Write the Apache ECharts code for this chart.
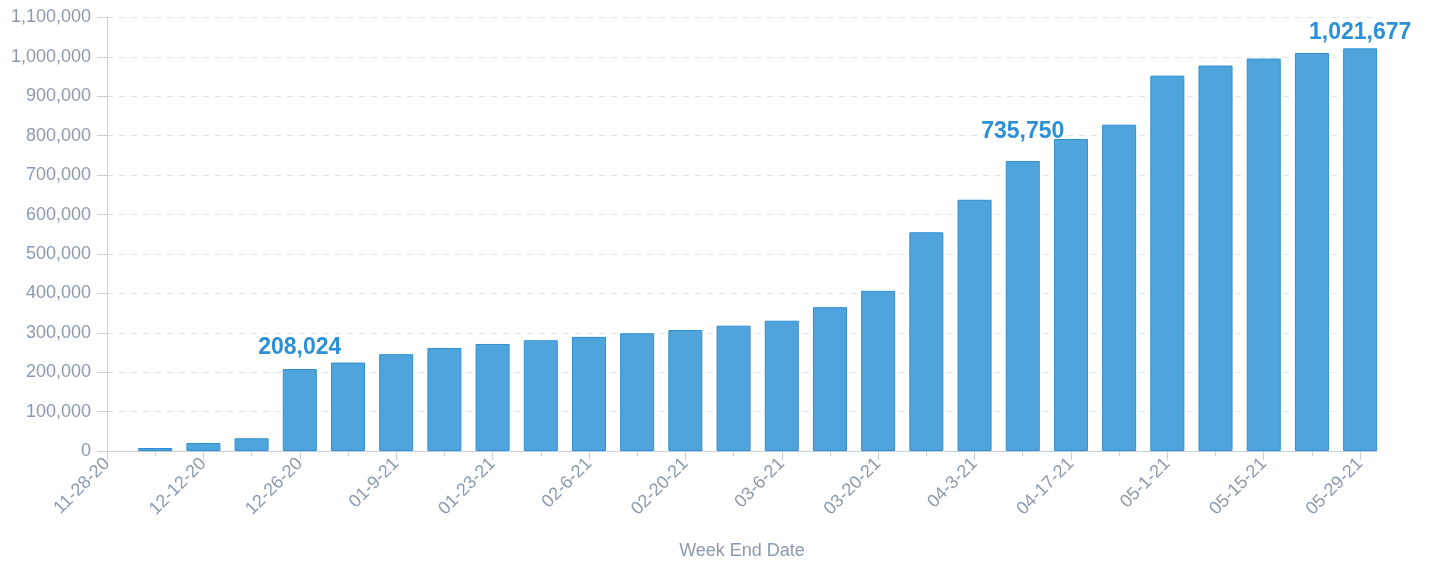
<!DOCTYPE html>
<html>
<head>
<meta charset="utf-8">
<title>Week End Date</title>
<script src="https://cdn.jsdelivr.net/npm/echarts@6/dist/echarts.min.js"></script>
<style>
  html, body { margin: 0; padding: 0; background: #fff; }
  #main { width: 1429px; height: 563px; }
</style>
</head>
<body>
<div id="main"></div>
<script>
// week end dates (one bar per week)
var weeks = ['11-28-20', '12-5-20', '12-12-20', '12-19-20', '12-26-20', '01-2-21', '01-9-21',
  '01-16-21', '01-23-21', '01-30-21', '02-6-21', '02-13-21', '02-20-21', '02-27-21', '03-6-21',
  '03-13-21', '03-20-21', '03-27-21', '04-3-21', '04-10-21', '04-17-21', '04-24-21', '05-1-21',
  '05-8-21', '05-15-21', '05-22-21', '05-29-21'];
// weekly values (first week has no bar)
var totals = [null, 7600, 20300, 32200, 208024, 224300, 245600,
  261500, 271600, 281000, 289600, 298700, 307000, 318000, 330600,
  365000, 406500, 555000, 637500, 735750, 791700, 828000, 952500,
  978000, 995700, 1010000, 1021677];
// weeks whose value is printed above the bar
var labeledWeeks = ['12-26-20', '04-10-21', '05-29-21'];
var labelGap = [10, 18, 4];
// y ticks
var yMin = 0, yMax = 1100000, yStep = 100000;

var chart = echarts.init(document.getElementById('main'));
var font = 'Liberation Sans, Arial, Helvetica, sans-serif';
var grey = '#8b9aaf';
var axisColor = '#c5cfdc';

var allIdx = weeks.map(function(w, i) { return i; });
var evenIdx = allIdx.filter(function(i) { return i % 2 === 0; });
var xMax = weeks.length - 1 + 0.35;

var barData = totals.map(function(v, i) {
  if (v === null) return { value: [i, '-'] };
  var k = labeledWeeks.indexOf(weeks[i]);
  var item = { value: [i, v] };
  if (k >= 0) {
    item.label = { show: true, distance: labelGap[k] };
  }
  return item;
});

var option = {
  animation: false,
  textStyle: { fontFamily: font },
  grid: { left: 107, right: 52, top: 17.5, bottom: 112, outerBoundsMode: 'none' },
  xAxis: [{
    type: 'value',
    min: 0,
    max: xMax,
    axisLine: { show: true, lineStyle: { color: axisColor } },
    axisTick: { show: true, length: 5, customValues: allIdx, lineStyle: { color: axisColor } },
    axisLabel: { show: false },
    splitLine: { show: false }
  }, {
    type: 'value',
    position: 'bottom',
    min: 0,
    max: xMax,
    name: 'Week End Date',
    nameLocation: 'middle',
    nameGap: 91,
    nameTextStyle: { color: grey, fontSize: 18, fontFamily: font },
    axisLine: { show: false },
    axisTick: { show: true, length: 9, customValues: evenIdx, lineStyle: { color: axisColor } },
    axisLabel: {
      customValues: evenIdx,
      rotate: 45,
      margin: 10,
      color: grey,
      fontSize: 18,
      fontFamily: font,
      formatter: function(v) { return weeks[Math.round(v)] || ''; }
    },
    splitLine: { show: false }
  }],
  yAxis: {
    type: 'value',
    min: yMin,
    max: yMax,
    interval: yStep,
    axisLine: { show: true, lineStyle: { color: axisColor } },
    axisTick: { show: true, length: 10, lineStyle: { color: axisColor } },
    axisLabel: {
      margin: 16,
      color: grey,
      fontSize: 18,
      fontFamily: font,
      formatter: function(v) { return v.toLocaleString('en-US'); }
    },
    splitLine: { show: true, lineStyle: { color: '#dde3eb', type: [6, 6] } }
  },
  series: [{
    type: 'bar',
    xAxisIndex: 0,
    barWidth: 34,
    data: barData,
    itemStyle: { color: '#4fa5db', borderColor: '#2f8fd2', borderWidth: 1 },
    label: {
      show: false,
      position: 'top',
      color: '#2b90d6',
      fontSize: 23,
      fontWeight: 'bold',
      fontFamily: font,
      formatter: function(p) { return p.value[1].toLocaleString('en-US'); }
    }
  }]
};

chart.setOption(option);
</script>
</body>
</html>
